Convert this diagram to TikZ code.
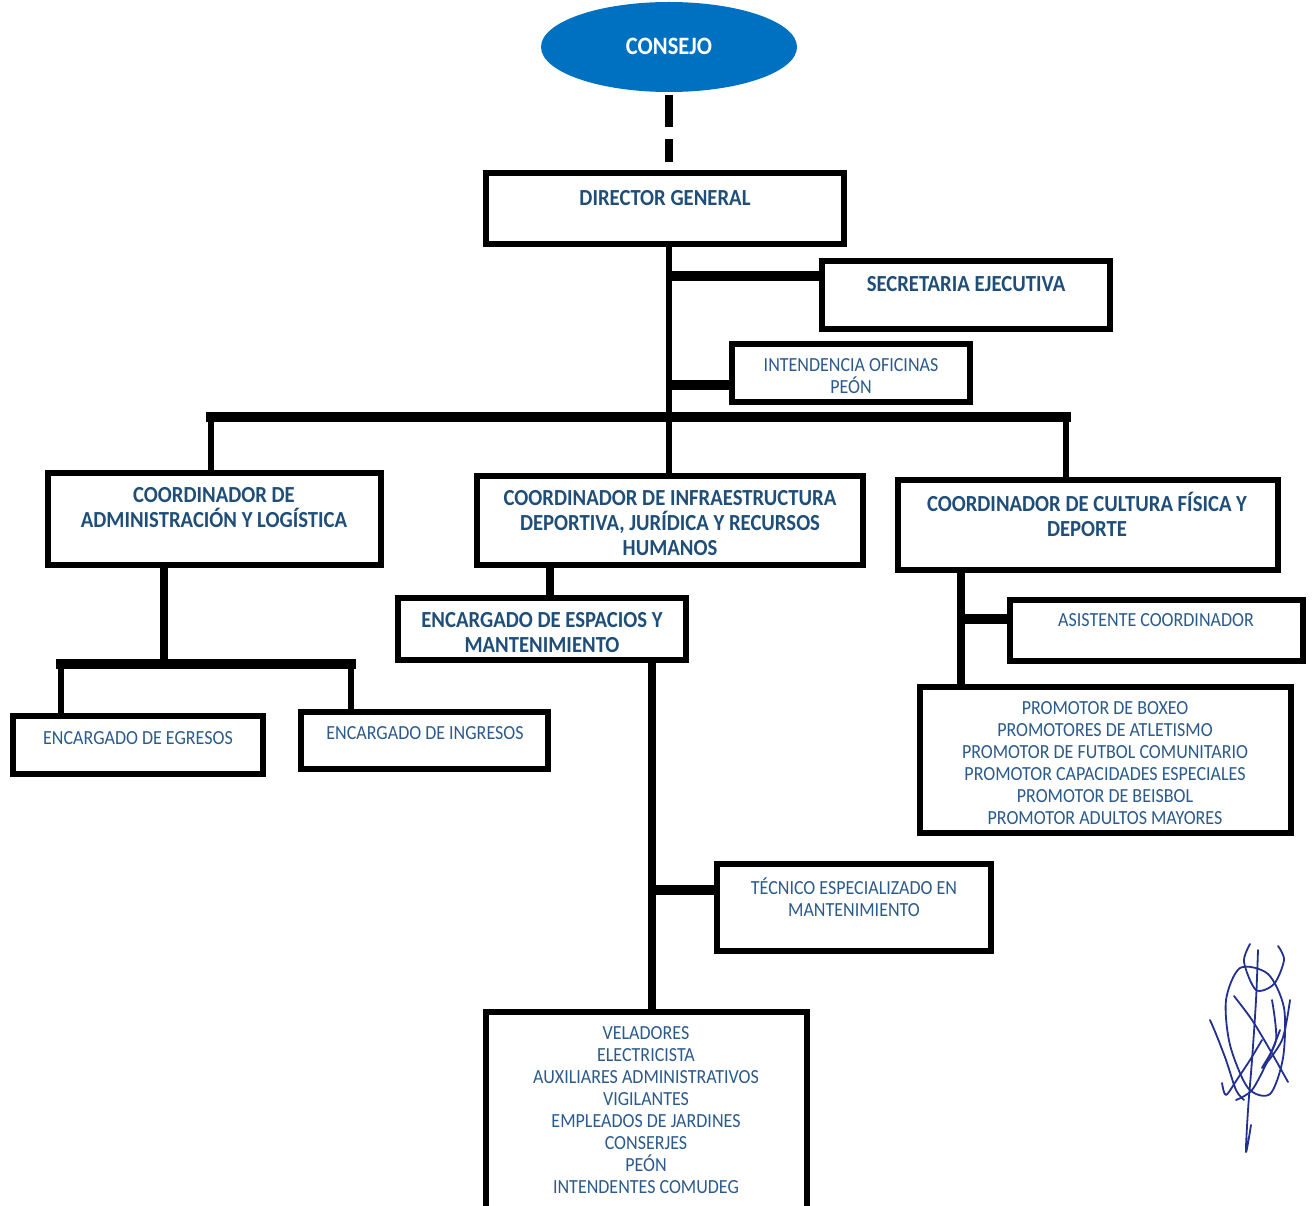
\documentclass[tikz,border=0pt]{standalone}
\usepackage{fontspec}
\setmainfont{Carlito}[FakeStretch=0.9]
\usetikzlibrary{shapes.geometric}
\definecolor{boldblue}{HTML}{1F4E79}
\definecolor{regblue}{HTML}{2B5A8C}
\definecolor{fillblue}{HTML}{0070C0}
\definecolor{ink}{HTML}{22308F}
\tikzset{
  box/.style={draw=black, line width=6pt, rectangle, inner sep=0pt, fill=white},
  btext/.style={text=boldblue, font=\bfseries\fontsize{23}{25}\selectfont, align=center, inner sep=0pt},
  rtext/.style={text=regblue, font=\fontsize{20}{22}\selectfont, align=center, inner sep=0pt},
  conn/.style={line width=6pt, black},
  thick conn/.style={line width=8pt, black},
  bar/.style={line width=10pt, black, line cap=rect},
  sig/.style={draw=ink, line width=1.8pt, line cap=round, line join=round}
}
\begin{document}
\begin{tikzpicture}[x=1pt,y=-1pt]
\useasboundingbox (0,0) rectangle (1313,1206);
\clip (0,0) rectangle (1313,1206);
% ---- boxes
\node[ellipse, fill=fillblue, minimum width=256pt, minimum height=90pt, inner sep=0pt] (cons) at (669,47) {};
\node[text=white, font=\bfseries\fontsize{25}{25}\selectfont, inner sep=0pt] (consT) at (669,46) {CONSEJO};

\node[box, minimum width=358pt, minimum height=71pt] (dg) at (665,208.5) {};
\node[btext] (dgT) at (665,198) {DIRECTOR GENERAL};

\node[box, minimum width=288pt, minimum height=68pt] (se) at (966,295) {};
\node[btext] (seT) at (966,284) {SECRETARIA EJECUTIVA};

\node[box, minimum width=238pt, minimum height=58pt] (io) at (851,373) {};
\node[rtext] (ioT) at (851,376) {INTENDENCIA OFICINAS\\PEÓN};

\node[box, minimum width=333pt, minimum height=92pt] (ca) at (214.5,519) {};
\node[btext] (caT) at (214,508) {COORDINADOR DE\\ADMINISTRACIÓN Y LOGÍSTICA};

\node[box, minimum width=386pt, minimum height=89pt] (ci) at (670,520.5) {};
\node[btext] (ciT) at (670,523) {COORDINADOR DE INFRAESTRUCTURA\\DEPORTIVA, JURÍDICA Y RECURSOS\\HUMANOS};

\node[box, minimum width=380pt, minimum height=90pt] (cc) at (1088,525) {};
\node[btext] (ccT) at (1087,514) {COORDINADOR DE CULTURA FÍSICA Y\\DEPORTE};

\node[box, minimum width=250pt, minimum height=58pt] (ee) at (138,745) {};
\node[rtext] (eeT) at (138,738) {ENCARGADO DE EGRESOS};

\node[box, minimum width=247pt, minimum height=57pt] (ei) at (424.5,740.5) {};
\node[rtext] (eiT) at (425,733) {ENCARGADO DE INGRESOS};

\node[box, minimum width=288pt, minimum height=62pt] (em) at (542,629) {};
\node[btext] (emT) at (542,633) {ENCARGADO DE ESPACIOS Y\\MANTENIMIENTO};

\node[box, minimum width=274pt, minimum height=87pt] (te) at (854,907.5) {};
\node[rtext] (teT) at (854,897) {TÉCNICO ESPECIALIZADO EN\\MANTENIMIENTO};

\node[box, minimum width=321pt, minimum height=210pt] (bt) at (646.5,1117) {};
\node[rtext] (btT) at (646,1110) {VELADORES\\ELECTRICISTA\\AUXILIARES ADMINISTRATIVOS\\VIGILANTES\\EMPLEADOS DE JARDINES\\CONSERJES\\PEÓN\\INTENDENTES COMUDEG};

\node[box, minimum width=293pt, minimum height=61pt] (ac) at (1156.5,630.5) {};
\node[rtext] (acT) at (1156,620) {ASISTENTE COORDINADOR};

\node[box, minimum width=371pt, minimum height=146pt] (pr) at (1105.5,760) {};
\node[rtext] (prT) at (1105,763) {PROMOTOR DE BOXEO\\PROMOTORES DE ATLETISMO\\PROMOTOR DE FUTBOL COMUNITARIO\\PROMOTOR CAPACIDADES ESPECIALES\\PROMOTOR DE BEISBOL\\PROMOTOR ADULTOS MAYORES};

% ---- connectors
\coordinate (tr) at (669,0);
\draw[line width=8pt, dash pattern=on 32pt off 12pt, shorten <=3pt, shorten >=8pt] (cons.south) -- (tr |- dg.north);
\draw[conn] (tr |- dg.south) -- (tr |- ci.north);
\coordinate (seJ) at (669,276);
\draw[bar, line cap=butt] (seJ) -- (seJ -| se.west);
\coordinate (ioJ) at (669,385);
\draw[bar, line cap=butt] (ioJ) -- (ioJ -| io.west);
\coordinate (hl) at (211,417);
\coordinate (hr) at (1066,417);
\draw[bar] (hl) -- (hr);
\draw[conn] (hl) -- (hl |- ca.north);
\draw[conn] (hr) -- (hr |- cc.north);
% admin branch
\coordinate (caD) at (164,0);
\coordinate (al) at (61,664);
\coordinate (ar) at (351,664);
\draw[thick conn] (caD |- ca.south) -- (caD |- al);
\draw[bar] (al) -- (ar);
\draw[conn] (al) -- (al |- ee.north);
\draw[conn] (ar) -- (ar |- ei.north);
% infra branch
\coordinate (ciD) at (550,0);
\draw[thick conn] (ciD |- ci.south) -- (ciD |- em.north);
\coordinate (emD) at (652,0);
\draw[thick conn] (emD |- em.south) -- (emD |- bt.north);
\coordinate (teJ) at (652,890);
\draw[bar, line cap=butt] (teJ) -- (teJ -| te.west);
% culture branch
\coordinate (ccD) at (961,0);
\draw[thick conn] (ccD |- cc.south) -- (ccD |- pr.north);
\coordinate (acJ) at (961,619);
\draw[bar, line cap=butt] (acJ) -- (acJ -| ac.west);

% ---- signature
\draw[sig] plot[smooth cycle] coordinates {(1240,968) (1268,974) (1284,1008) (1283,1058) (1270,1094) (1248,1088) (1230,1045) (1226,1000)};
\draw[sig] plot[smooth] coordinates {(1250,944) (1244,962) (1256,990) (1274,984) (1284,960) (1278,946)};
\draw[sig] plot[smooth] coordinates {(1258,950) (1256,1000) (1252,1060) (1248,1110) (1246,1152) (1251,1125)};
\draw[sig] plot[smooth] coordinates {(1234,996) (1252,1020) (1270,1050) (1288,1082)};
\draw[sig] plot[smooth] coordinates {(1272,1000) (1276,1040) (1262,1068) (1282,1040) (1290,1000)};
\draw[sig] plot[smooth] coordinates {(1210,1020) (1216,1034) (1226,1060) (1236,1090) (1244,1100)};
\draw[sig] plot[smooth] coordinates {(1222,1083) (1226,1095) (1238,1078) (1250,1060) (1262,1040)};
\draw[sig] plot[smooth] coordinates {(1236,1100) (1252,1090) (1268,1060) (1280,1030)};
\end{tikzpicture}
\end{document}
